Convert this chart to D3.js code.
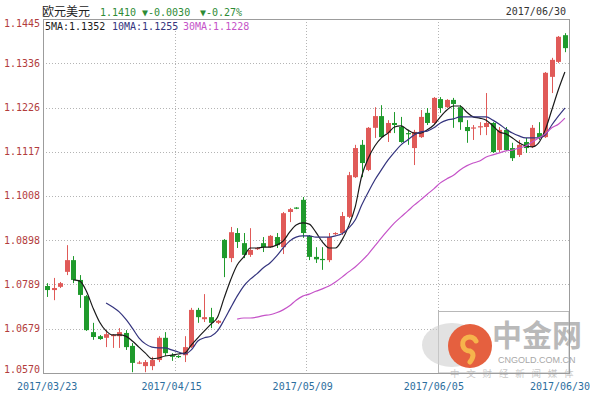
<!DOCTYPE html>
<html>
<head>
<meta charset="utf-8">
<script src="https://cdn.jsdelivr.net/npm/d3@7"></script>
<style>
    html, body { margin: 0; padding: 0; background: #fff; }
    .container { width: 600px; height: 396px; }
</style>
</head>
<body>
<div class="container"></div>
<script>
// 日期刻度（对应K线序号）
const dateLabels = ["2017/03/23", "2017/04/15", "2017/05/09", "2017/06/05", "2017/06/30"];
const dateIndex = [0, 19, 39, 59, 79];

// 纵轴刻度
const priceTicks = ["1.0570", "1.0679", "1.0789", "1.0898", "1.1008", "1.1117", "1.1226", "1.1336", "1.1445"];

// 标题与均线图例
const titleName = "欧元美元";
const titleQuote = ["1.1410", "▼-0.0030", "▼-0.27%"];
const maLegend = ["5MA:1.1352", "10MA:1.1255", "30MA:1.1228"];

// K线数据
const opens = [
    1.0785, 1.0775, 1.0783, 1.0820, 1.0849, 1.0800, 1.0760, 1.0671, 1.0661, 1.0657,
    1.0661, 1.0661, 1.0669, 1.0637, 1.0595, 1.0587, 1.0587, 1.0602, 1.0657, 1.0614,
    1.0612, 1.0614, 1.0634, 1.0726, 1.0703, 1.0708, 1.0694, 1.0899, 1.0854, 1.0916,
    1.0891, 1.0862, 1.0876, 1.0891, 1.0881, 1.0906, 1.0881, 1.0968, 1.0979, 1.0998,
    1.0909, 1.0857, 1.0852, 1.0849, 1.0914, 1.0916, 1.0956, 1.1054, 1.1134, 1.1072,
    1.1176, 1.1205, 1.1163, 1.1188, 1.1178, 1.1163, 1.1126, 1.1153, 1.1213, 1.1188,
    1.1247, 1.1227, 1.1245, 1.1227, 1.1178, 1.1175, 1.1177, 1.1178, 1.1188, 1.1121,
    1.1171, 1.1126, 1.1109, 1.1141, 1.1129, 1.1163, 1.1153, 1.1302, 1.1339, 1.1405
];
const highs = [
    1.0792, 1.0805, 1.0795, 1.0886, 1.0859, 1.0812, 1.0763, 1.0694, 1.0664, 1.0676,
    1.0666, 1.0681, 1.0676, 1.0644, 1.0600, 1.0602, 1.0610, 1.0661, 1.0671, 1.0619,
    1.0614, 1.0661, 1.0731, 1.0731, 1.0765, 1.0731, 1.0701, 1.0901, 1.0931, 1.0928,
    1.0916, 1.0928, 1.0881, 1.0906, 1.0911, 1.0916, 1.0968, 1.0978, 1.0980, 1.1005,
    1.0911, 1.0881, 1.0881, 1.0916, 1.0918, 1.0968, 1.1067, 1.1134, 1.1146, 1.1178,
    1.1227, 1.1232, 1.1195, 1.1215, 1.1203, 1.1171, 1.1171, 1.1220, 1.1225, 1.1252,
    1.1252, 1.1247, 1.1250, 1.1232, 1.1195, 1.1183, 1.1190, 1.1262, 1.1190, 1.1178,
    1.1178, 1.1139, 1.1146, 1.1151, 1.1183, 1.1190, 1.1314, 1.1349, 1.1403, 1.1410
];
const lows = [
    1.0758, 1.0750, 1.0780, 1.0812, 1.0792, 1.0731, 1.0674, 1.0652, 1.0652, 1.0634,
    1.0632, 1.0632, 1.0627, 1.0572, 1.0592, 1.0572, 1.0577, 1.0597, 1.0612, 1.0600,
    1.0607, 1.0597, 1.0632, 1.0694, 1.0696, 1.0681, 1.0691, 1.0807, 1.0844, 1.0879,
    1.0854, 1.0857, 1.0874, 1.0869, 1.0879, 1.0879, 1.0864, 1.0943, 1.0975, 1.0904,
    1.0849, 1.0842, 1.0825, 1.0844, 1.0911, 1.0911, 1.0953, 1.1052, 1.1054, 1.1069,
    1.1151, 1.1151, 1.1141, 1.1163, 1.1139, 1.1134, 1.1084, 1.1151, 1.1183, 1.1185,
    1.1213, 1.1225, 1.1176, 1.1171, 1.1139, 1.1146, 1.1158, 1.1158, 1.1114, 1.1116,
    1.1119, 1.1094, 1.1104, 1.1114, 1.1126, 1.1146, 1.1151, 1.1262, 1.1336, 1.1363
];
const closes = [
    1.0775, 1.0780, 1.0792, 1.0849, 1.0800, 1.0763, 1.0676, 1.0659, 1.0654, 1.0666,
    1.0664, 1.0671, 1.0634, 1.0595, 1.0596, 1.0597, 1.0602, 1.0657, 1.0619, 1.0610,
    1.0611, 1.0634, 1.0726, 1.0708, 1.0708, 1.0694, 1.0699, 1.0854, 1.0918, 1.0894,
    1.0862, 1.0874, 1.0879, 1.0881, 1.0909, 1.0886, 1.0965, 1.0975, 1.0977, 1.0916,
    1.0857, 1.0851, 1.0851, 1.0906, 1.0916, 1.0958, 1.1059, 1.1126, 1.1089, 1.1176,
    1.1205, 1.1153, 1.1188, 1.1183, 1.1141, 1.1162, 1.1166, 1.1203, 1.1188, 1.1250,
    1.1225, 1.1245, 1.1235, 1.1190, 1.1168, 1.1177, 1.1180, 1.1188, 1.1116, 1.1171,
    1.1121, 1.1101, 1.1134, 1.1126, 1.1176, 1.1153, 1.1312, 1.1344, 1.1401, 1.1373
];

// 均线（从图上读取，前面不足周期的位置为空）
const ma5Start = 4;
const ma5 = [
    1.0800, 1.0797, 1.0772, 1.0731, 1.0696, 1.0674, 1.0664, 1.0664, 1.0661, 1.0649,
    1.0634, 1.0619, 1.0605, 1.0607, 1.0612, 1.0614, 1.0617, 1.0619, 1.0639, 1.0657,
    1.0674, 1.0691, 1.0708, 1.0755, 1.0800, 1.0837, 1.0857, 1.0879, 1.0879, 1.0881,
    1.0881, 1.0886, 1.0896, 1.0918, 1.0936, 1.0941, 1.0938, 1.0918, 1.0894, 1.0879,
    1.0879, 1.0899, 1.0933, 1.0980, 1.1057, 1.1101, 1.1131, 1.1151, 1.1163, 1.1178,
    1.1181, 1.1171, 1.1163, 1.1163, 1.1171, 1.1183, 1.1203, 1.1220, 1.1230, 1.1230,
    1.1215, 1.1203, 1.1200, 1.1195, 1.1181, 1.1166, 1.1161, 1.1151, 1.1139, 1.1131,
    1.1129, 1.1139, 1.1171, 1.1220, 1.1270, 1.1314
];
const ma10Start = 9;
const ma10 = [
    1.0743, 1.0733, 1.0721, 1.0703, 1.0681, 1.0657, 1.0642, 1.0634, 1.0632, 1.0632,
    1.0627, 1.0622, 1.0617, 1.0627, 1.0649, 1.0657, 1.0661, 1.0674, 1.0701, 1.0731,
    1.0760, 1.0785, 1.0802, 1.0815, 1.0830, 1.0842, 1.0859, 1.0879, 1.0896, 1.0906,
    1.0909, 1.0909, 1.0906, 1.0906, 1.0906, 1.0909, 1.0914, 1.0928, 1.0948, 1.0985,
    1.1017, 1.1047, 1.1072, 1.1096, 1.1116, 1.1134, 1.1146, 1.1158, 1.1166, 1.1168,
    1.1176, 1.1188, 1.1195, 1.1198, 1.1203, 1.1203, 1.1203, 1.1203, 1.1203, 1.1195,
    1.1185, 1.1173, 1.1163, 1.1156, 1.1151, 1.1151, 1.1151, 1.1158, 1.1183, 1.1205,
    1.1225
];
const ma30Start = 29;
const ma30 = [
    1.0703, 1.0706, 1.0706, 1.0708, 1.0712, 1.0714, 1.0719, 1.0726, 1.0736, 1.0750,
    1.0760, 1.0765, 1.0772, 1.0778, 1.0785, 1.0795, 1.0807, 1.0820, 1.0832, 1.0847,
    1.0864, 1.0884, 1.0904, 1.0923, 1.0941, 1.0956, 1.0970, 1.0985, 1.0998, 1.1012,
    1.1025, 1.1040, 1.1050, 1.1059, 1.1072, 1.1082, 1.1089, 1.1094, 1.1104, 1.1109,
    1.1114, 1.1119, 1.1121, 1.1126, 1.1131, 1.1141, 1.1151, 1.1161, 1.1176, 1.1185,
    1.1200
];

let width = 600;
let height = 396;
let plot = {left: 43, top: 19, right: 569, bottom: 373};

let monoFont = "'DejaVu Sans Mono', monospace";
let cjkFont = "'Noto Sans CJK SC', sans-serif";

let svg = d3.select(".container").append("svg")
    .attr("width", width)
    .attr("height", height);

// 横轴：每根K线一个位置
let x = d3.scaleBand()
    .domain(d3.range(closes.length))
    .range([plot.left, plot.right])
    .padding(0.25);

// 纵轴
let y = d3.scaleLinear()
    .domain([+priceTicks[0], +priceTicks[priceTicks.length - 1]])
    .range([plot.bottom, plot.top]);

function center(i) {
    return x(i) + x.bandwidth() / 2;
}

/**
 * 网格线
 */
function drawGrid() {
    let g = svg.append("g");

    g.selectAll("line.h")
        .data(priceTicks.slice(1, -1))
        .enter()
        .append("line")
        .attr("x1", plot.left)
        .attr("x2", plot.right)
        .attr("y1", d => Math.round(y(+d)) + 0.5)
        .attr("y2", d => Math.round(y(+d)) + 0.5)
        .attr("stroke", "#b4b4b4")
        .attr("stroke-dasharray", "1,2");

    g.selectAll("line.v")
        .data([1, 2, 3])
        .enter()
        .append("line")
        .attr("x1", d => Math.round(plot.left + (plot.right - plot.left) * d / 4) + 0.5)
        .attr("x2", d => Math.round(plot.left + (plot.right - plot.left) * d / 4) + 0.5)
        .attr("y1", plot.top)
        .attr("y2", plot.bottom)
        .attr("stroke", "#b4b4b4")
        .attr("stroke-dasharray", "1,2");
}

/**
 * 绘制K线
 */
function drawCandles() {
    let g = svg.append("g");
    let data = closes.map((c, i) => ({i: i, o: opens[i], h: highs[i], l: lows[i], c: c}));
    let color = d => d.c >= d.o ? "#e05a58" : "#1f9a2c";

    g.selectAll("line")
        .data(data)
        .enter()
        .append("line")
        .attr("x1", d => Math.round(center(d.i)) + 0.5)
        .attr("x2", d => Math.round(center(d.i)) + 0.5)
        .attr("y1", d => y(d.h))
        .attr("y2", d => y(d.l))
        .attr("stroke", color);

    g.selectAll("rect")
        .data(data)
        .enter()
        .append("rect")
        .attr("x", d => Math.round(center(d.i)) - 2)
        .attr("width", 5)
        .attr("y", d => y(Math.max(d.o, d.c)))
        .attr("height", d => Math.max(1.2, Math.abs(y(d.o) - y(d.c))))
        .attr("fill", color);
}

/**
 * 绘制均线
 */
function drawMaLines() {
    let series = [
        {start: ma5Start, values: ma5, color: "#1a1a1a"},
        {start: ma10Start, values: ma10, color: "#34347e"},
        {start: ma30Start, values: ma30, color: "#c553c8"}
    ];

    let line = d3.line()
        .x(d => center(d.i))
        .y(d => y(d.v))
        .curve(d3.curveMonotoneX);

    svg.append("g")
        .selectAll("path")
        .data(series)
        .enter()
        .append("path")
        .attr("d", s => line(s.values.map((v, k) => ({i: s.start + k, v: v}))))
        .attr("fill", "none")
        .attr("stroke", s => s.color)
        .attr("stroke-width", 1.2);
}

/**
 * 水印
 */
function drawWatermark() {
    let g = svg.append("g");

    g.append("rect")
        .attr("x", 438.5)
        .attr("y", 311.5)
        .attr("width", plot.right - 438.5)
        .attr("height", plot.bottom - 311.5)
        .attr("fill", "#fff")
        .attr("stroke", "#b8b8b8");

    g.append("ellipse")
        .attr("cx", 452)
        .attr("cy", 345)
        .attr("rx", 30)
        .attr("ry", 22)
        .attr("fill", "#cfcfcf")
        .attr("opacity", 0.6);

    g.append("circle")
        .attr("cx", 470)
        .attr("cy", 346)
        .attr("r", 22)
        .attr("fill", "#e5603f");

    g.append("path")
        .attr("d", "M476,341 A7,7 0 1 0 470,351 Q476,354 470,362")
        .attr("fill", "none")
        .attr("stroke", "#f6b44c")
        .attr("stroke-width", 5)
        .attr("stroke-linecap", "round");

    g.append("text")
        .attr("x", 492)
        .attr("y", 346)
        .attr("font-family", cjkFont)
        .attr("font-size", 30)
        .attr("font-weight", "bold")
        .attr("fill", "#b9b9b9")
        .text("中金网");

    g.append("text")
        .attr("x", 498)
        .attr("y", 363)
        .attr("font-family", "'Liberation Sans', sans-serif")
        .attr("font-size", 9)
        .attr("fill", "#a8a8a8")
        .text("CNGOLD.COM.CN");

    g.append("text")
        .attr("x", 450)
        .attr("y", 377)
        .attr("font-family", cjkFont)
        .attr("font-size", 9.5)
        .attr("letter-spacing", 6.8)
        .attr("fill", "#c8c8c8")
        .text("中文财经新闻媒体");
}

/**
 * 边框、刻度与文字
 */
function drawLabels() {
    svg.append("rect")
        .attr("x", plot.left + 0.5)
        .attr("y", plot.top + 0.5)
        .attr("width", plot.right - plot.left)
        .attr("height", plot.bottom - plot.top)
        .attr("fill", "none")
        .attr("stroke", "#9c9c9c");

    // 纵轴刻度
    svg.append("g")
        .selectAll("text")
        .data(priceTicks)
        .enter()
        .append("text")
        .attr("x", 40)
        .attr("y", d => Math.min(369, Math.max(23, y(+d))))
        .attr("dy", "0.35em")
        .attr("text-anchor", "end")
        .attr("font-family", monoFont)
        .attr("font-size", 10)
        .attr("fill", "#b23c3c")
        .text(d => d);

    // 日期
    svg.append("g")
        .selectAll("text")
        .data(dateLabels)
        .enter()
        .append("text")
        .attr("x", (d, k) => Math.min(560, center(dateIndex[k])))
        .attr("y", 389.5)
        .attr("text-anchor", "middle")
        .attr("font-family", monoFont)
        .attr("font-size", 10)
        .attr("fill", "#2c6e9e")
        .text(d => d);

    // 标题
    svg.append("text")
        .attr("x", 42)
        .attr("y", 16)
        .attr("font-family", cjkFont)
        .attr("font-size", 12)
        .attr("fill", "#222")
        .text(titleName);

    svg.append("g")
        .selectAll("text")
        .data(titleQuote)
        .enter()
        .append("text")
        .attr("x", (d, k) => [100, 142, 200][k])
        .attr("y", 16)
        .attr("font-family", monoFont)
        .attr("font-size", 10)
        .attr("fill", "#2e8b35")
        .text(d => d);

    svg.append("text")
        .attr("x", 566)
        .attr("y", 15)
        .attr("text-anchor", "end")
        .attr("font-family", monoFont)
        .attr("font-size", 10)
        .attr("fill", "#333")
        .text(dateLabels[dateLabels.length - 1]);

    // 均线图例
    svg.append("g")
        .selectAll("text")
        .data(maLegend)
        .enter()
        .append("text")
        .attr("x", (d, k) => [45, 112, 183][k])
        .attr("y", 30)
        .attr("font-family", monoFont)
        .attr("font-size", 10)
        .attr("fill", (d, k) => ["#1a1a1a", "#34347e", "#c553c8"][k])
        .text(d => d);
}

function init() {
    drawGrid();
    drawWatermark();
    drawCandles();
    drawMaLines();
    drawLabels();
}

init();
</script>
</body>
</html>
